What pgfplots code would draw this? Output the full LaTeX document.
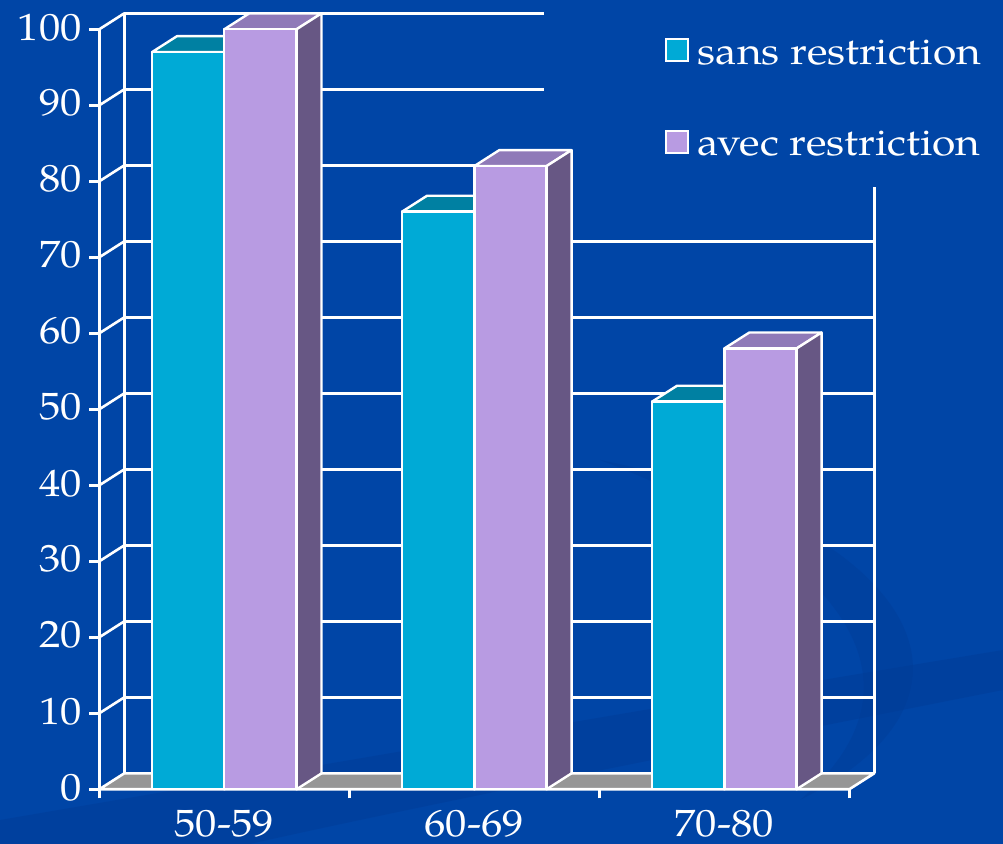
\documentclass[border=0pt]{standalone}
\usepackage{fontspec}
\setmainfont{texgyrepagella}[Extension=.otf, UprightFont=*-regular, BoldFont=*-bold, ItalicFont=*-italic, BoldItalicFont=*-bolditalic, FakeStretch=1.12]
\usepackage{pgfplots}
\usepackage{pgfplotstable}
\pgfplotsset{compat=1.18}

\definecolor{bgblue}{RGB}{0,69,166}
\definecolor{bgdark}{RGB}{0,58,148}
\definecolor{cyanfront}{RGB}{0,170,214}
\definecolor{cyantop}{RGB}{0,128,162}
\definecolor{purplefront}{RGB}{184,155,226}
\definecolor{purpletop}{RGB}{143,122,184}
\definecolor{purpleside}{RGB}{103,87,132}
\definecolor{floorgray}{RGB}{150,150,150}

% group centre, then the two series
\pgfplotstableread{
grp  sans avec
0.5  97   100
1.5  76   82
2.5  51   58
}\bardata

\newcommand\getval[3]{\pgfplotstablegetelem{#1}{#2}\of\bardata\edef#3{\pgfplotsretval}}
\getval{0}{grp}\gA \getval{1}{grp}\gB \getval{2}{grp}\gC
\getval{0}{sans}\sA \getval{1}{sans}\sB \getval{2}{sans}\sC
\getval{0}{avec}\aA \getval{1}{avec}\aB \getval{2}{avec}\aC

% oblique depth of the 3D boxes, in axis units
\def\dx{0.1}
\def\dy{2.1}
\def\bw{0.289}

% one 3D bar: left, right, height, front, top and side colours
\newcommand\cuboid[6]{%
  \pgfmathsetmacro\cxa{#1}\pgfmathsetmacro\cxb{#2}\pgfmathsetmacro\ch{#3}%
  \pgfmathsetmacro\cxc{#1+\dx}\pgfmathsetmacro\cxd{#2+\dx}\pgfmathsetmacro\chb{#3+\dy}%
  \edef\cuboidtop{\noexpand\addplot[barface, fill=#5] coordinates {(\cxa,\ch) (\cxb,\ch) (\cxd,\chb) (\cxc,\chb)} -- cycle;}%
  \edef\cuboidside{\noexpand\addplot[barface, fill=#6] coordinates {(\cxb,0) (\cxd,\dy) (\cxd,\chb) (\cxb,\ch)} -- cycle;}%
  \edef\cuboidfront{\noexpand\addplot[barface, fill=#4] coordinates {(\cxa,0) (\cxb,0) (\cxb,\ch) (\cxa,\ch)} -- cycle;}%
  \cuboidtop\cuboidside\cuboidfront}

\newcommand\frameline[4]{\addplot[frameline] coordinates {(#1,#2) (#3,#4)};}
\newcommand\labelfont{\fontsize{19}{21}\selectfont}

\begin{document}
\begin{tikzpicture}
\fill[bgblue] (-49.65pt,-27.35pt) rectangle (451.85pt,394.65pt);
% soft swooshes of the slide background
\begin{scope}[x=0.5pt, y=-0.5pt, shift={(-49.65pt,394.65pt)}]
  \fill[bgdark, opacity=0.35] (600,460) .. controls (900,520) and (1020,690) .. (800,800)
     .. controls (930,690) and (860,560) .. (600,460) -- cycle;
  \fill[bgdark, opacity=0.4] (0,844) -- (0,820) .. controls (350,760) and (700,700) .. (1003,650)
     -- (1003,690) .. controls (700,750) and (400,810) .. (250,844) -- cycle;
\end{scope}
\begin{axis}[
  x=125pt, y=3.8pt,
  xmin=0, xmax=3.1, ymin=0, ymax=102.1,
  clip=false,
  axis line style={draw=none},
  tick align=outside,
  xtick pos=bottom, ytick pos=left,
  xtick={0.5,1.5,2.5},
  xticklabels={50-59,60-69,70-80},
  minor xtick={0,1,2,3},
  major x tick style={draw=none},
  minor x tick style={white, line width=1.3pt},
  minor tick length=4.5pt,
  ytick={0,10,...,100},
  major y tick style={white, line width=1.3pt},
  major tick length=5pt,
  tick label style={text=white, font=\labelfont},
  /pgf/number format/assume math mode=true,
  xticklabel style={inner sep=0pt, anchor=north, yshift=-5.5pt},
  yticklabel style={inner sep=0pt, anchor=east, xshift=-3.6pt, yshift=1pt},
  frameline/.style={white, line width=1.3pt, forget plot},
  barface/.style={draw=white, line width=1.2pt, line join=round, forget plot},
  legend style={at={(axis cs:2.26,99.2)}, anchor=north west, draw=none, fill=none,
    text=white, font=\labelfont, row sep=28pt,
    inner sep=0pt, nodes={inner xsep=4.5pt, inner ysep=2pt}},
  legend cell align=left,
]
% back wall
\frameline{0.1}{12.1}{3.1}{12.1}
\frameline{0.1}{22.1}{3.1}{22.1}
\frameline{0.1}{32.1}{3.1}{32.1}
\frameline{0.1}{42.1}{3.1}{42.1}
\frameline{0.1}{52.1}{3.1}{52.1}
\frameline{0.1}{62.1}{3.1}{62.1}
\frameline{0.1}{72.1}{3.1}{72.1}
\frameline{0.1}{82.1}{1.78}{82.1}
\frameline{0.1}{92.1}{1.78}{92.1}
\frameline{0.1}{102.1}{1.78}{102.1}
\frameline{0.1}{2.1}{0.1}{102.1}
\frameline{3.1}{2.1}{3.1}{79.25}
% side wall
\frameline{0}{0}{0}{100}
\frameline{0}{10}{0.1}{12.1}
\frameline{0}{20}{0.1}{22.1}
\frameline{0}{30}{0.1}{32.1}
\frameline{0}{40}{0.1}{42.1}
\frameline{0}{50}{0.1}{52.1}
\frameline{0}{60}{0.1}{62.1}
\frameline{0}{70}{0.1}{72.1}
\frameline{0}{80}{0.1}{82.1}
\frameline{0}{90}{0.1}{92.1}
\frameline{0}{100}{0.1}{102.1}
% floor
\addplot[fill=floorgray, draw=white, line width=1.3pt, line join=round, forget plot]
  coordinates {(0,0) (3,0) (3.1,2.1) (0.1,2.1)} -- cycle;
% bars
\cuboid{\gA-\bw}{\gA}{\sA}{cyanfront}{cyantop}{cyantop}
\cuboid{\gB-\bw}{\gB}{\sB}{cyanfront}{cyantop}{cyantop}
\cuboid{\gC-\bw}{\gC}{\sC}{cyanfront}{cyantop}{cyantop}
\cuboid{\gA}{\gA+\bw}{\aA}{purplefront}{purpletop}{purpleside}
\cuboid{\gB}{\gB+\bw}{\aB}{purplefront}{purpletop}{purpleside}
\cuboid{\gC}{\gC+\bw}{\aC}{purplefront}{purpletop}{purpleside}
% legend
\addlegendimage{legend image code/.code={\draw[white, line width=1pt, fill=cyanfront] (0.5pt,-4pt) rectangle (11.5pt,7pt);}}
\addlegendentry{sans restriction}
\addlegendimage{legend image code/.code={\draw[white, line width=1pt, fill=purplefront] (0.5pt,-4pt) rectangle (11.5pt,7pt);}}
\addlegendentry{avec restriction}
\end{axis}
\pgfresetboundingbox
\path[use as bounding box] (-49.65pt,-27.35pt) rectangle (451.85pt,394.65pt);
\end{tikzpicture}
\end{document}
